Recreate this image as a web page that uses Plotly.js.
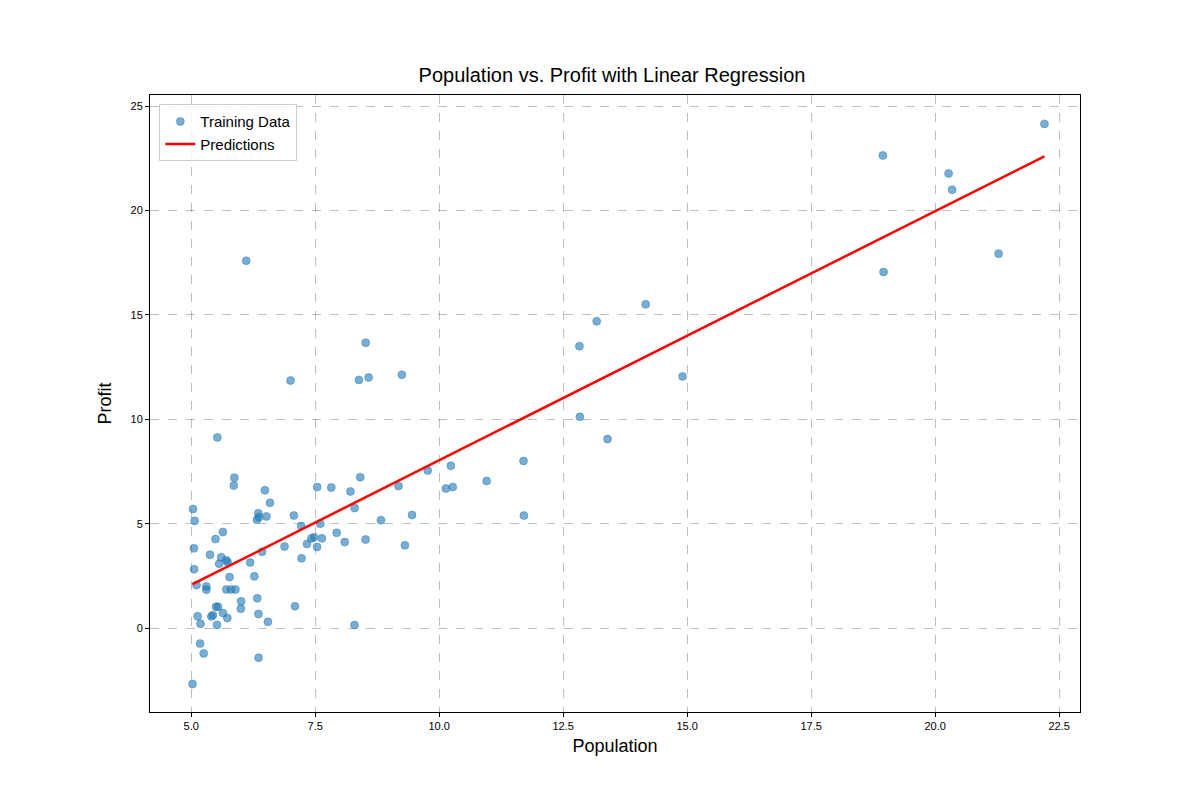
<!DOCTYPE html>
<html>
<head>
<meta charset="utf-8">
<script src="https://cdn.plot.ly/plotly-3.0.1.min.js"></script>
<style>body{margin:0;background:#fff}#plot{width:1200px;height:800px}</style>
</head>
<body>
<div id="plot"></div>
<script>
const population = [6.1101,5.5277,8.5186,7.0032,5.8598,8.3829,7.4764,8.5781,6.4862,5.0546,5.7107,14.164,5.734,8.4084,5.6407,5.3794,6.3654,5.1301,6.4296,7.0708,6.1891,20.27,5.4901,6.3261,5.5649,18.945,12.828,10.957,13.176,22.203,5.2524,6.5894,9.2482,5.8918,8.2111,7.9334,8.0959,5.6063,12.836,6.3534,5.4069,6.8825,11.708,5.7737,7.8247,7.0931,5.0702,5.8014,11.7,5.5416,7.5402,5.3077,7.4239,7.6031,6.3328,6.3589,6.2742,5.6397,9.3102,9.4536,8.8254,5.1793,21.279,14.908,18.959,7.2182,8.2951,10.236,5.4994,20.341,10.136,7.3345,6.0062,7.2259,5.0269,6.5479,7.5386,5.0365,10.274,5.1077,5.7292,5.1884,6.3557,9.7687,6.5159,8.5172,9.1802,6.002,5.5204,5.0594,5.7077,7.6366,5.8707,5.3054,8.2934,13.394,5.4369]
const profit = [17.592,9.1302,13.662,11.854,6.8233,11.886,4.3483,12,6.5987,3.8166,3.2522,15.505,3.1551,7.2258,0.71618,3.5129,5.3048,0.56077,3.6518,5.3893,3.1386,21.767,4.263,5.1875,3.0825,22.638,13.501,7.0467,14.692,24.147,-1.22,5.9966,12.134,1.8495,6.5426,4.5623,4.1164,3.3928,10.117,5.4974,0.55657,3.9115,5.3854,2.4406,6.7318,1.0463,5.1337,1.844,8.0043,1.0179,6.7504,1.8396,4.2885,4.9981,1.4233,-1.4211,2.4756,4.6042,3.9624,5.4141,5.1694,-0.74279,17.929,12.054,17.054,4.8852,5.7442,7.7754,1.0173,20.992,6.6799,4.0259,1.2784,3.3411,-2.6807,0.29678,3.8845,5.7014,6.7526,2.0576,0.47953,0.20421,0.67861,7.5435,5.3436,4.2415,6.7981,0.92695,0.152,2.8214,1.8451,4.2959,7.2029,1.9869,0.14454,9.0551,0.61705]
const predX = [5.0269, 22.203]
const predY = [2.101, 22.594]

const data = [{
    type: 'scatter', mode: 'markers', name: 'Training Data',
    x: population, y: profit,
    marker: {color: 'rgba(31,119,180,0.6)', size: 8, line: {color: 'rgba(31,119,180,0.8)', width: 0.5}}
}, {
    type: 'scatter', mode: 'lines', name: 'Predictions',
    x: predX, y: predY,
    line: {color: '#ff0000', width: 2.5}
}]

const axisStyle = {
    showline: true, mirror: true, linecolor: '#000', linewidth: 1,
    ticks: 'outside', ticklen: 4, tickcolor: '#000',
    showgrid: true, gridcolor: 'rgba(0,0,0,0.25)', griddash: 'dash', gridwidth: 1,
    zeroline: false, tickfont: {size: 11, color: '#000'}
}

const layout = {
    width: 1200, height: 800,
    margin: {l: 150, r: 120, t: 95, b: 88},
    font: {family: 'Liberation Sans, Arial, sans-serif', color: '#000'},
    title: {text: 'Population vs. Profit with Linear Regression', font: {size: 20}, x: 0.51, y: 0.915},
    xaxis: Object.assign({}, axisStyle, {
        range: [4.17, 22.92], tickvals: [5, 7.5, 10, 12.5, 15, 17.5, 20, 22.5], tickformat: '.1f',
        title: {text: 'Population', font: {size: 18}, standoff: 8}
    }),
    yaxis: Object.assign({}, axisStyle, {
        range: [-4.02, 25.53], tickvals: [0, 5, 10, 15, 20, 25],
        title: {text: 'Profit', font: {size: 18}, standoff: 14}
    }),
    showlegend: true,
    legend: {x: 0.01, y: 0.985, xanchor: 'left', yanchor: 'top', bgcolor: 'rgba(255,255,255,0.8)',
        bordercolor: '#ccc', borderwidth: 1, font: {size: 15}},
    paper_bgcolor: '#fff', plot_bgcolor: '#fff'
}

Plotly.newPlot('plot', data, layout, {displayModeBar: false})
</script>
</body>
</html>
